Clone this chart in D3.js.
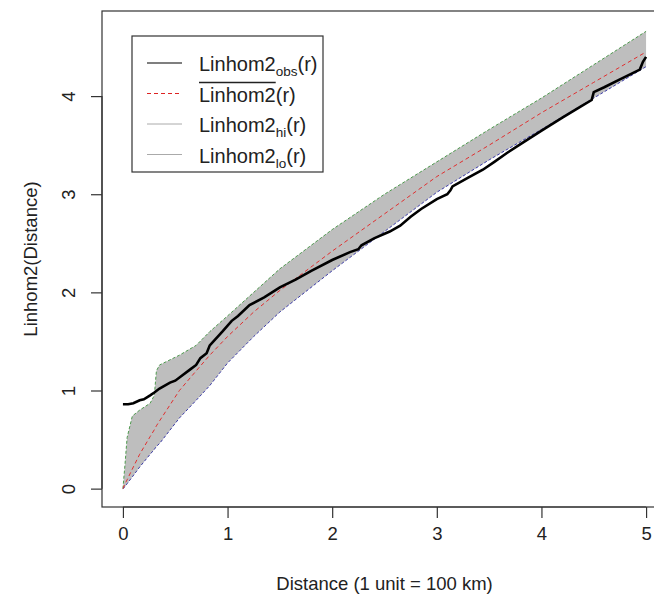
<!DOCTYPE html>
<html>
<head>
<meta charset="utf-8">
<script src="https://cdnjs.cloudflare.com/ajax/libs/d3/7.8.5/d3.min.js"></script>
<style>
	html,body{margin:0;padding:0;background:#fff;}
	svg text{font-family:Arial,"Liberation Sans",sans-serif;fill:#222;}
</style>
</head>
<body>
<div id="result"></div>
<script>
// envelope grid (r) with theoretical mean, hi and lo
var rGrid   = [0, 0.02, 0.04, 0.09, 0.16, 0.26, 0.30, 0.32, 0.35, 0.54, 0.70, 0.83, 1.00, 1.25, 1.50, 2.00, 2.50, 3.00, 3.50, 4.00, 4.50, 5.00];
var theoVal = [0, 0.05, 0.09, 0.20, 0.35, 0.53, 0.60, 0.64, 0.69, 1.00, 1.20, 1.36, 1.55, 1.80, 2.02, 2.42, 2.80, 3.18, 3.50, 3.83, 4.14, 4.45];
var hiVal   = [0, 0.25, 0.52, 0.74, 0.80, 0.87, 0.95, 1.20, 1.26, 1.36, 1.46, 1.60, 1.76, 2.00, 2.24, 2.64, 3.00, 3.33, 3.66, 3.98, 4.32, 4.66];
var loVal   = [0, 0.02, 0.05, 0.12, 0.22, 0.35, 0.40, 0.43, 0.46, 0.72, 0.90, 1.05, 1.28, 1.55, 1.80, 2.22, 2.62, 3.02, 3.35, 3.66, 3.98, 4.30];

// observed curve
var obsR   = [0, 0.05, 0.10, 0.16, 0.20, 0.26, 0.30, 0.35, 0.45, 0.50, 0.55, 0.65, 0.70, 0.74, 0.80, 0.83, 0.95, 1.04, 1.10, 1.21, 1.35, 1.50, 1.65, 1.80, 2.00, 2.17, 2.25, 2.28, 2.40, 2.55, 2.65, 2.75, 2.85, 3.00, 3.10, 3.13, 3.15, 3.30, 3.44, 3.55, 3.67, 3.80, 3.99, 4.20, 4.37, 4.48, 4.50, 4.60, 4.75, 4.94, 4.97, 5.00];
var obsVal = [0.86, 0.86, 0.87, 0.90, 0.91, 0.95, 0.98, 1.02, 1.08, 1.10, 1.14, 1.22, 1.26, 1.33, 1.38, 1.46, 1.60, 1.71, 1.76, 1.87, 1.95, 2.05, 2.13, 2.22, 2.33, 2.41, 2.44, 2.48, 2.55, 2.62, 2.68, 2.77, 2.85, 2.95, 3.00, 3.04, 3.08, 3.17, 3.25, 3.33, 3.42, 3.51, 3.64, 3.78, 3.89, 3.96, 4.04, 4.09, 4.17, 4.27, 4.35, 4.40];

var xTicks = [0, 1, 2, 3, 4, 5];
var yTicks = [0, 1, 2, 3, 4];
var xLim = [0, 5];
var yLim = [0, 4.68];

(function(){
	'use strict';

	var W = 654, H = 600;
	var plot = {left:102, right:667, top:11, bottom:507};

	// R style 4% padding of the ranges
	var xPad = (xLim[1]-xLim[0])*0.04, yPad = (yLim[1]-yLim[0])*0.04;
	var x = d3.scaleLinear().domain([xLim[0]-xPad, xLim[1]+xPad]).range([plot.left, plot.right]);
	var y = d3.scaleLinear().domain([yLim[0]-yPad, yLim[1]+yPad]).range([plot.bottom, plot.top]);

	var svg = d3.select("#result").append("svg")
		.attr("width", W).attr("height", H);

	var env = rGrid.map(function(r,i){return {r:r, theo:theoVal[i], hi:hiVal[i], lo:loVal[i]};});
	var obs = obsR.map(function(r,i){return {r:r, v:obsVal[i]};});

	// shaded envelope
	svg.append("path")
		.datum(env)
		.attr("fill", "#bebebe")
		.attr("d", d3.area()
			.x(function(d){return x(d.r);})
			.y0(function(d){return y(d.lo);})
			.y1(function(d){return y(d.hi);}));

	function addLine(data, key, col, w, dash){
		svg.append("path")
			.datum(data)
			.attr("fill", "none")
			.attr("stroke", col)
			.attr("stroke-width", w)
			.attr("stroke-dasharray", dash)
			.attr("d", d3.line()
				.x(function(d){return x(d.r);})
				.y(function(d){return y(d[key]);}));
	}
	addLine(env, "hi", "#4e9a4e", 1, "3,2");
	addLine(env, "lo", "#3c3ca8", 1, "3,2");
	addLine(env, "theo", "#e03030", 1, "4,3");
	addLine(obs, "v", "#000", 2.6, null);

	// box
	svg.append("rect")
		.attr("x", plot.left).attr("y", plot.top)
		.attr("width", plot.right-plot.left).attr("height", plot.bottom-plot.top)
		.attr("fill", "none").attr("stroke", "#333").attr("stroke-width", 1.2);

	// x axis
	var xAxis = svg.append("g")
		.attr("transform", "translate(0," + plot.bottom + ")")
		.call(d3.axisBottom(x).tickValues(xTicks).tickSize(11).tickPadding(9).tickFormat(d3.format("d")));
	xAxis.select(".domain")
		.attr("d", "M" + x(xTicks[0]) + ",0H" + x(xTicks[xTicks.length-1]));
	xAxis.selectAll("text").attr("font-size", 18.5).attr("fill", "#222");

	// y axis
	var yAxis = svg.append("g")
		.attr("transform", "translate(" + plot.left + ",0)")
		.call(d3.axisLeft(y).tickValues(yTicks).tickSize(11).tickFormat(d3.format("d")));
	yAxis.select(".domain")
		.attr("d", "M0," + y(yTicks[0]) + "V" + y(yTicks[yTicks.length-1]));
	yAxis.selectAll(".tick text")
		.attr("x", null).attr("dy", null)
		.attr("transform", "translate(-34,0) rotate(-90)")
		.attr("text-anchor", "middle")
		.attr("dominant-baseline", "central")
		.attr("font-size", 18.5).attr("fill", "#222");
	svg.selectAll(".domain, .tick line").attr("stroke", "#333").attr("stroke-width", 1.2);

	// axis titles
	svg.append("text")
		.attr("x", (plot.left+plot.right)/2).attr("y", 590)
		.attr("text-anchor", "middle")
		.attr("font-size", 18.5)
		.text("Distance (1 unit = 100 km)");
	svg.append("text")
		.attr("transform", "translate(37," + ((plot.top+plot.bottom)/2) + ") rotate(-90)")
		.attr("text-anchor", "middle")
		.attr("font-size", 18.5)
		.text("Linhom2(Distance)");

	// legend
	var leg = svg.append("g");
	leg.append("rect")
		.attr("x", 132).attr("y", 36).attr("width", 191).attr("height", 136)
		.attr("fill", "#fff").attr("stroke", "#333").attr("stroke-width", 1.2);

	var items = [
		{sub:"obs", col:"#000", w:1.2, dash:null, bar:false},
		{sub:null, col:"#dd2222", w:1.2, dash:"4,3", bar:true},
		{sub:"hi", col:"#aaa", w:1, dash:null, bar:false},
		{sub:"lo", col:"#aaa", w:1, dash:null, bar:false}
	];
	items.forEach(function(it, i){
		var cy = 63 + i*30.5;
		leg.append("line")
			.attr("x1", 147).attr("x2", 182).attr("y1", cy).attr("y2", cy)
			.attr("stroke", it.col).attr("stroke-width", it.w).attr("stroke-dasharray", it.dash);
		var t = leg.append("text")
			.attr("x", 199).attr("y", cy + 8)
			.attr("font-size", 20);
		var main = t.append("tspan").text("Linhom2");
		if (it.sub){
			t.append("tspan").attr("font-size", 13.5).attr("dy", 5).text(it.sub);
			t.append("tspan").attr("dy", -5).text("(r)");
		} else {
			t.append("tspan").text("(r)");
		}
		if (it.bar){
			var wMain = main.node().getComputedTextLength();
			leg.append("line")
				.attr("x1", 199).attr("x2", 199 + wMain)
				.attr("y1", cy - 11).attr("y2", cy - 11)
				.attr("stroke", "#222").attr("stroke-width", 1.3);
		}
	});
})();
</script>
</body>
</html>
